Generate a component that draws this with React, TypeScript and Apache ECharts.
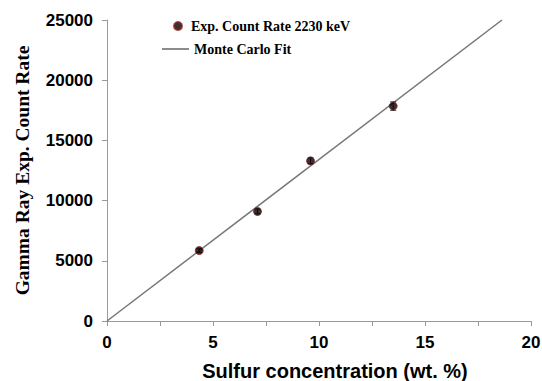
import React, { useEffect, useRef } from "react";
import * as echarts from "echarts";

const sulfur = [4.35, 7.1, 9.6, 13.5];
const countRate = [5850, 9100, 13300, 17850];
const countErr = [150, 200, 250, 350];
const fitX = [0, 18.63];
const fitY = [0, 25000];
const xTicks = [0, 5, 10, 15, 20];
const yTicks = [0, 5000, 10000, 15000, 20000, 25000];

export default function App() {
  const ref = useRef<HTMLDivElement>(null);
  useEffect(() => {
    const chart = echarts.init(ref.current!, null, { renderer: "svg" });
    const sans = "'Liberation Sans', Arial, sans-serif";
    const serif = "'Liberation Serif', 'Times New Roman', serif";
    chart.setOption({
      animation: false,
      backgroundColor: "#fff",
      grid: { left: 107, right: 11, top: 20, bottom: 60, outerBoundsMode: "none", containLabel: false },
      legend: [
        {
          data: [{ name: "Exp. Count Rate 2230 keV", icon: "circle" }],
          left: 168,
          top: 14,
          itemWidth: 8,
          itemHeight: 8,
          itemGap: 0,
          textStyle: { fontFamily: serif, fontWeight: "bold", fontSize: 14, color: "#000", padding: [0, 0, 0, 4] },
        },
        {
          data: [{ name: "Monte Carlo Fit", icon: "rect" }],
          left: 157,
          top: 37,
          itemWidth: 27,
          itemHeight: 1.5,
          textStyle: { fontFamily: serif, fontWeight: "bold", fontSize: 14, color: "#000", padding: [0, 0, 0, 0] },
        },
      ],
      xAxis: {
        type: "value",
        min: xTicks[0],
        max: xTicks[xTicks.length - 1],
        interval: 2.5,
        name: "Sulfur concentration (wt. %)",
        nameLocation: "middle",
        nameGap: 40,
        nameTextStyle: { fontFamily: sans, fontWeight: "bold", fontSize: 20, color: "#000", padding: [0, 0, 0, 32] },
        axisLine: { lineStyle: { color: "#999", width: 1 } },
        axisTick: { show: true, length: 5, lineStyle: { color: "#999" } },
        splitLine: { show: false },
        axisLabel: {
          fontFamily: sans,
          fontWeight: "bold",
          fontSize: 17,
          color: "#000",
          margin: 13,
          formatter: (v: number) => (xTicks.includes(v) ? String(v) : ""),
        },
      },
      yAxis: {
        type: "value",
        min: yTicks[0],
        max: yTicks[yTicks.length - 1],
        interval: 5000,
        name: "Gamma Ray Exp. Count Rate",
        nameLocation: "middle",
        nameGap: 75,
        nameTextStyle: { fontFamily: serif, fontWeight: "bold", fontSize: 19.5, color: "#000" },
        axisLine: { show: true, lineStyle: { color: "#999", width: 1 } },
        axisTick: { show: true, length: 5, lineStyle: { color: "#999" } },
        splitLine: { show: false },
        axisLabel: {
          fontFamily: sans,
          fontWeight: "bold",
          fontSize: 17,
          color: "#000",
          margin: 14,
          formatter: (v: number) => String(v),
        },
      },
      series: [
        {
          name: "Monte Carlo Fit",
          type: "line",
          data: fitX.map((x, i) => [x, fitY[i]]),
          symbol: "none",
          lineStyle: { color: "#777", width: 1.5 },
          itemStyle: { color: "#666" },
          z: 1,
        },
        {
          name: "errors",
          type: "custom",
          data: sulfur.map((x, i) => [x, countRate[i] - countErr[i], countRate[i] + countErr[i]]),
          renderItem: (params: any, api: any) => {
            const lo = api.coord([api.value(0), api.value(1)]);
            const hi = api.coord([api.value(0), api.value(2)]);
            const w = 3;
            const st = { stroke: "#333", lineWidth: 1 };
            return {
              type: "group",
              children: [
                { type: "line", shape: { x1: lo[0], y1: lo[1], x2: hi[0], y2: hi[1] }, style: st },
                { type: "line", shape: { x1: lo[0] - w, y1: lo[1], x2: lo[0] + w, y2: lo[1] }, style: st },
                { type: "line", shape: { x1: hi[0] - w, y1: hi[1], x2: hi[0] + w, y2: hi[1] }, style: st },
              ],
            };
          },
          z: 2,
        },
        {
          name: "Exp. Count Rate 2230 keV",
          type: "scatter",
          data: sulfur.map((x, i) => [x, countRate[i]]),
          symbol: "circle",
          symbolSize: 8,
          itemStyle: { color: "#000", borderColor: "#8b1a1a", borderWidth: 1 },
          z: 3,
        },
      ],
    });
    return () => chart.dispose();
  }, []);
  return <div ref={ref} style={{ width: 542, height: 381, position: "absolute", left: 0, top: 0 }} />;
}
